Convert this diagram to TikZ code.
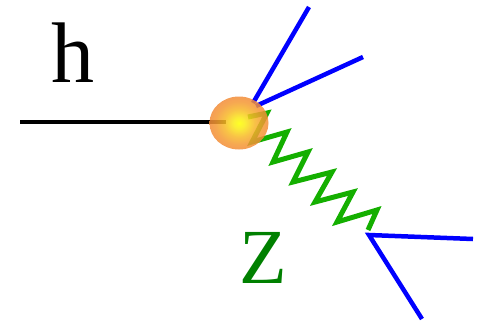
\documentclass[tikz,border=0pt]{standalone}
\usepackage{fontspec}
\setmainfont{Liberation Serif}
\usetikzlibrary{shapes.geometric}
\definecolor{lblue}{RGB}{0,0,255}
\definecolor{zig}{RGB}{20,175,0}
\definecolor{zgreen}{RGB}{0,128,0}
\pgfdeclareradialshading{blobshade}{\pgfpoint{0bp}{0bp}}{%
  rgb(0bp)=(1,1,0);
  rgb(5bp)=(0.98,0.92,0.08);
  rgb(13bp)=(0.97,0.72,0.15);
  rgb(20bp)=(0.96,0.6,0.2);
  rgb(25bp)=(0.95,0.55,0.22);
  rgb(50bp)=(0.95,0.55,0.22)}
\tikzset{
  hline/.style={line width=4pt, black},
  fline/.style={line width=4.5pt, lblue},
  zline/.style={line width=5pt, zig, line join=miter},
  blob/.style={ellipse, minimum width=59pt, minimum height=53pt, inner sep=0pt,
    shading=blobshade, fill opacity=0.85},
  lbl/.style={inner sep=0pt, anchor=base west}
}
\begin{document}
\begin{tikzpicture}[x=1pt,y=-1pt]
\useasboundingbox (0,0) rectangle (487,333);
% coordinates
\coordinate (hin) at (20,122);
\coordinate (hend) at (226,122);
\coordinate (v) at (239,123);
\coordinate (f1s) at (253,103);
\coordinate (f1e) at (309,7);
\coordinate (f2s) at (256,106);
\coordinate (f2e) at (363,57);
\coordinate (zs) at (248,117);
\coordinate (zv) at (369,235);
\coordinate (g1) at (473,239);
\coordinate (g2) at (422,319);
% lines
\draw[hline] (hin) -- (hend);
\draw[fline] (f1s) -- (f1e);
\draw[fline] (f2s) -- (f2e);
\draw[zline] (zs) -- (267,113) -- (252,142) -- (287,132) -- (273,162) -- (308,152)
  -- (293,182) -- (332,172) -- (315,202) -- (353,192) -- (337,222) -- (377,210) -- (368,230);
\draw[fline, line join=miter] (g1) -- (zv) -- (g2);
% blob
\node[blob] (b) at (v) {};
% labels
\node[lbl, font=\fontsize{86}{86}\selectfont] (h) at (51,82) {h};
\node[lbl, font=\fontsize{78}{78}\selectfont, text=zgreen] (z) at (239,283) {Z};
\end{tikzpicture}
\end{document}
